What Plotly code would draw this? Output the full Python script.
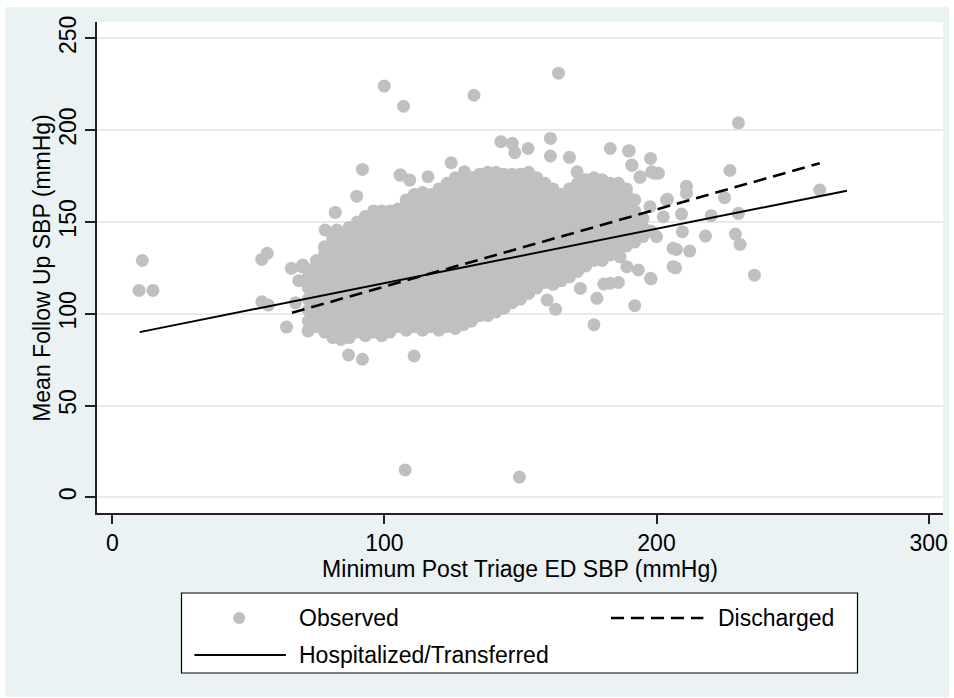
import plotly.graph_objects as go

# ---------------- data ----------------
# dense cloud of observations: column positions (x) and the y values seen in each column
cloud_x = [72, 75, 78, 81, 84, 87, 90, 93, 96, 99, 102, 105, 108, 111, 114, 117, 120, 123,
           126, 129, 132, 135, 138, 141, 144, 147, 150, 153, 156, 159, 162, 165, 168, 171,
           174, 177, 180, 183, 186, 189, 192, 195, 198]
cloud_y = [
    [96, 102, 108, 114, 120, 124],
    [93, 99, 105, 111, 117, 123, 129],
    [90, 96, 102, 108, 114, 120, 126, 132, 136],
    [87, 93, 99, 105, 111, 117, 123, 129, 135, 141],
    [86, 90, 96, 102, 108, 114, 120, 126, 132, 138, 144],
    [87, 93, 99, 105, 111, 117, 123, 129, 135, 141, 147],
    [90, 96, 102, 108, 114, 120, 126, 132, 138, 144, 150],
    [88, 93, 99, 105, 111, 117, 123, 129, 135, 141, 147, 153],
    [90, 96, 102, 108, 114, 120, 126, 132, 138, 144, 150, 156],
    [88, 93, 99, 105, 111, 117, 123, 129, 135, 141, 147, 153, 156],
    [90, 96, 102, 108, 114, 120, 126, 132, 138, 144, 150, 156],
    [93, 99, 105, 111, 117, 123, 129, 135, 141, 147, 153, 157],
    [91, 96, 102, 108, 114, 120, 126, 132, 138, 144, 150, 156, 162],
    [93, 99, 105, 111, 117, 123, 129, 135, 141, 147, 153, 159, 165],
    [91, 96, 102, 108, 114, 120, 126, 132, 138, 144, 150, 156, 162, 166],
    [93, 99, 105, 111, 117, 123, 129, 135, 141, 147, 153, 159, 165],
    [91, 96, 102, 108, 114, 120, 126, 132, 138, 144, 150, 156, 162, 168],
    [93, 99, 105, 111, 117, 123, 129, 135, 141, 147, 153, 159, 165, 171],
    [92, 96, 102, 108, 114, 120, 126, 132, 138, 144, 150, 156, 162, 168, 174],
    [94, 99, 105, 111, 117, 123, 129, 135, 141, 147, 153, 159, 165, 171, 174],
    [96, 102, 108, 114, 120, 126, 132, 138, 144, 150, 156, 162, 168, 174],
    [99, 105, 111, 117, 123, 129, 135, 141, 147, 153, 159, 165, 171, 176],
    [99, 102, 108, 114, 120, 126, 132, 138, 144, 150, 156, 162, 168, 174, 177],
    [101, 105, 111, 117, 123, 129, 135, 141, 147, 153, 159, 165, 171, 177],
    [103, 108, 114, 120, 126, 132, 138, 144, 150, 156, 162, 168, 174, 176],
    [106, 111, 117, 123, 129, 135, 141, 147, 153, 159, 165, 171, 176],
    [108, 114, 120, 126, 132, 138, 144, 150, 156, 162, 168, 174, 176],
    [111, 117, 123, 129, 135, 141, 147, 153, 159, 165, 171, 177],
    [114, 120, 126, 132, 138, 144, 150, 156, 162, 168, 174],
    [117, 123, 129, 135, 141, 147, 153, 159, 165, 171],
    [116, 120, 126, 132, 138, 144, 150, 156, 162, 168],
    [118, 123, 129, 135, 141, 147, 153, 159, 165],
    [120, 126, 132, 138, 144, 150, 156, 162, 168],
    [123, 129, 135, 141, 147, 153, 159, 165, 171],
    [126, 132, 138, 144, 150, 156, 162, 168, 173],
    [129, 135, 141, 147, 153, 159, 165, 171, 174],
    [129, 132, 138, 144, 150, 156, 162, 168, 173],
    [132, 135, 141, 147, 153, 159, 165, 171],
    [134, 138, 144, 150, 156, 162, 168, 171],
    [137, 141, 147, 153, 159, 165, 168],
    [139, 144, 150, 156, 162],
    [142, 147, 152],
    [145],
]

# scattered / edge observations
outlier_x = [9.8, 14.9, 11.0, 54.9, 56.9, 54.9, 57.3, 64.0, 71.9, 65.8, 70.0,
             99.9, 107.0, 132.9, 164.0, 230.1, 107.6, 149.6,
             183.0, 190.0, 197.8, 191.0, 193.9, 199.2, 227.0, 260.0, 211.0, 211.0, 204.0,
             225.0, 209.2, 220.1, 230.1, 209.5, 218.0, 229.0, 230.7, 207.3, 212.2, 207.0,
             236.0, 198.0, 192.0, 186.0, 183.0, 200.0, 197.6, 177.0,
             142.8, 147.0, 147.9, 152.8, 161.0, 161.0, 168.0, 124.5, 91.9, 106.0, 116.0,
             89.8, 81.9, 78.2, 78.2, 69.7, 72.2, 86.8, 91.9, 110.9, 178.1, 162.9, 159.8,
             82.5, 78.0, 105.7, 109.3, 129.4, 189.7, 190.9, 198.2, 200.7, 194.0, 170.8,
             203.7, 202.5, 206.1, 206.1, 197.8, 180.6, 172.0, 189.1, 193.3, 186.6,
             68.5, 67.3, 74.6, 74.6]
outlier_y = [112.7, 112.7, 129.0, 129.6, 132.9, 106.5, 104.7, 92.7, 90.6, 124.7, 126.5,
             224.0, 213.0, 219.0, 231.0, 204.0, 14.9, 11.0,
             190.0, 188.8, 184.6, 180.8, 174.3, 176.5, 178.0, 167.4, 169.5, 165.5, 162.3,
             163.2, 154.3, 153.4, 154.7, 144.7, 142.3, 143.4, 137.8, 135.0, 134.1, 125.0,
             121.0, 119.0, 104.4, 117.0, 116.6, 142.0, 158.3, 94.0,
             193.7, 192.8, 187.7, 190.0, 195.5, 185.9, 185.2, 182.3, 178.6, 175.5, 174.6,
             164.0, 155.2, 145.6, 133.8, 125.6, 91.1, 77.5, 75.2, 77.0, 108.4, 102.4, 107.5,
             145.6, 136.5, 175.5, 172.8, 177.3, 188.6, 181.0, 177.3, 176.5, 174.6, 177.3,
             161.9, 152.8, 135.6, 125.6, 119.3, 116.2, 113.8, 125.6, 123.8, 131.0,
             118.0, 106.0, 113.0, 121.0]

# fitted lines (end points)
discharged_x = [66, 260]
discharged_y = [100.5, 182]
hosp_x = [10, 270]
hosp_y = [90, 167]

x_ticks = [0, 100, 200, 300]
y_ticks = [0, 50, 100, 150, 200, 250]

x_title = "Minimum Post Triage ED SBP (mmHg)"
y_title = "Mean Follow Up SBP (mmHg)"
legend_labels = ["Observed", "Discharged", "Hospitalized/Transferred"]

# ---------------- styles ----------------
W, H = 954, 698
ML, MR, MT, MB = 97, 6, 22, 185
PW, PH = W - ML - MR, H - MT - MB
FONT = "Liberation Sans, Arial, Helvetica, sans-serif"
BG = "#EAF2F3"
GRID = "#E3EDF0"
GRAY = "#C0C0C0"


def px(x):
    return (x - ML) / PW


def py(y):
    return (H - MB - y) / PH


obs_x, obs_y = [], []
for cx, ys in zip(cloud_x, cloud_y):
    for yv in ys:
        obs_x.append(cx)
        obs_y.append(yv)
obs_x += outlier_x
obs_y += outlier_y

fig = go.Figure()
fig.add_trace(go.Scatter(x=obs_x, y=obs_y, mode="markers", name=legend_labels[0],
                         marker=dict(size=13, color=GRAY, line=dict(width=0)),
                         showlegend=False, hoverinfo="skip"))
fig.add_trace(go.Scatter(x=discharged_x, y=discharged_y, mode="lines", name=legend_labels[1],
                         line=dict(color="black", width=2.6, dash="13px,7px"),
                         showlegend=False))
fig.add_trace(go.Scatter(x=hosp_x, y=hosp_y, mode="lines", name=legend_labels[2],
                         line=dict(color="black", width=1.9),
                         showlegend=False))

shapes = [
    # outer graph region
    dict(type="rect", xref="paper", yref="paper", x0=px(5), x1=px(954), y0=py(697), y1=py(7),
         fillcolor=BG, line=dict(width=0), layer="below"),
    # plot region
    dict(type="rect", xref="paper", yref="paper", x0=0, x1=1, y0=0, y1=1,
         fillcolor="white", line=dict(width=0), layer="below"),
    # legend box
    dict(type="rect", xref="paper", yref="paper", x0=px(182), x1=px(862), y0=py(673), y1=py(593),
         fillcolor="white", line=dict(color="black", width=1.2), layer="above"),
    # legend samples
    dict(type="circle", xref="paper", yref="paper", x0=px(234), x1=px(246), y0=py(624), y1=py(612),
         fillcolor=GRAY, line=dict(width=0), layer="above"),
    dict(type="line", xref="paper", yref="paper", x0=px(614), x1=px(707), y0=py(618), y1=py(618),
         line=dict(color="black", width=2.6, dash="13px,7px"), layer="above"),
    dict(type="line", xref="paper", yref="paper", x0=px(195), x1=px(287), y0=py(655), y1=py(655),
         line=dict(color="black", width=1.9), layer="above"),
]

annotations = [
    dict(text=legend_labels[0], xref="paper", yref="paper", x=px(298), y=py(618),
         xanchor="left", yanchor="middle", showarrow=False, font=dict(family=FONT, size=23, color="black")),
    dict(text=legend_labels[1], xref="paper", yref="paper", x=px(720), y=py(618),
         xanchor="left", yanchor="middle", showarrow=False, font=dict(family=FONT, size=23, color="black")),
    dict(text=legend_labels[2], xref="paper", yref="paper", x=px(298), y=py(655),
         xanchor="left", yanchor="middle", showarrow=False, font=dict(family=FONT, size=23, color="black")),
    # y-axis title
    dict(text=y_title, xref="paper", yref="paper", x=px(41), y=0.5, textangle=-90,
         xanchor="center", yanchor="middle", showarrow=False,
         font=dict(family=FONT, size=23, color="black")),
]

fig.update_layout(
    width=W, height=H,
    margin=dict(l=ML, r=MR, t=MT, b=MB),
    paper_bgcolor="white", plot_bgcolor="white",
    font=dict(family=FONT, size=23, color="black"),
    showlegend=False,
    shapes=shapes, annotations=annotations,
    xaxis=dict(range=[-5.66, 305.3], tickvals=x_ticks, ticks="outside", ticklen=9, tickwidth=1.5,
               tickcolor="#222", showline=True, linecolor="#222", linewidth=1.5,
               showgrid=False, zeroline=False,
               title=dict(text=x_title, font=dict(size=23), standoff=6),
               tickfont=dict(size=23)),
    yaxis=dict(range=[-8.55, 258.9], tickvals=y_ticks, ticks="outside", ticklen=10, tickwidth=1.5,
               tickcolor="#222", showline=True, linecolor="#222", linewidth=1.5,
               showgrid=True, gridcolor=GRID, gridwidth=1.5, zeroline=False, tickangle=-90,
               tickfont=dict(size=23)),
)

fig.write_html("out.html")
